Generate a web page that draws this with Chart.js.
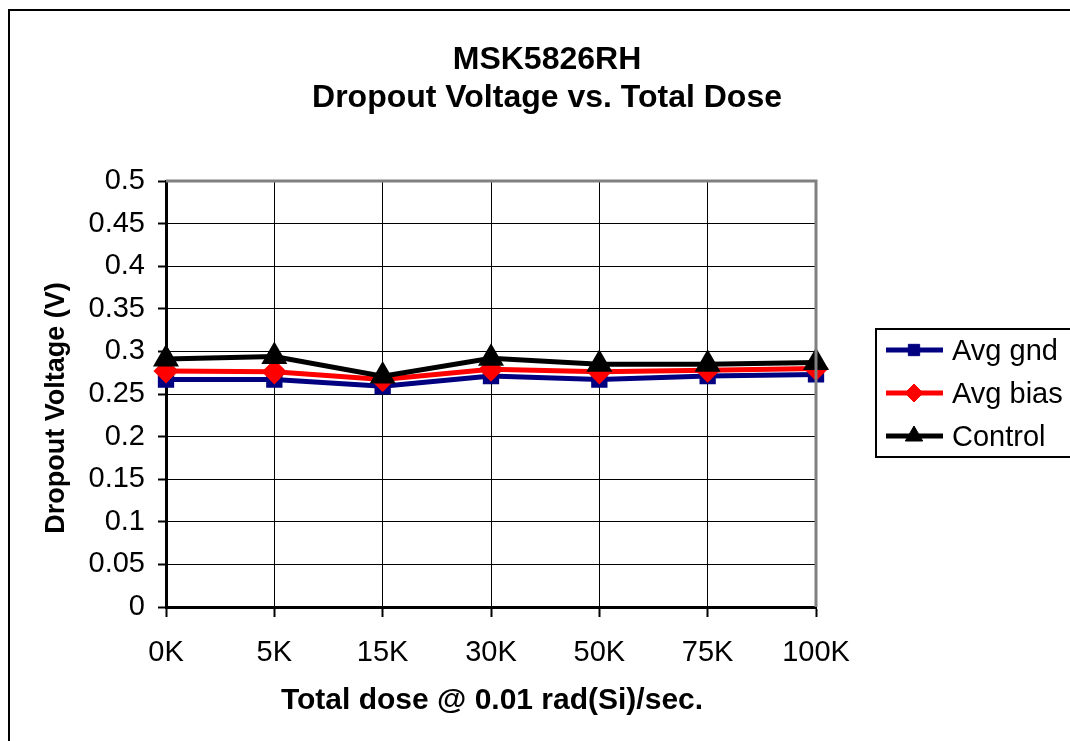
<!DOCTYPE html>
<html>
<head>
<meta charset="utf-8">
<script src="https://cdn.jsdelivr.net/npm/chart.js@4.4.0/dist/chart.umd.min.js"></script>
<style>
  body { margin: 0; background: #fff; }
  canvas { display: block; }
</style>
</head>
<body>
<canvas id="doseChart" width="1070" height="741"></canvas>
<script>
// data
const doses = ['0K', '5K', '15K', '30K', '50K', '75K', '100K'];
const avgGnd = [0.267, 0.267, 0.259, 0.271, 0.267, 0.271, 0.273];
const avgBias = [0.277, 0.276, 0.267, 0.279, 0.276, 0.278, 0.280];
const control = [0.291, 0.294, 0.271, 0.292, 0.285, 0.285, 0.287];
const yTicks = [0, 0.05, 0.1, 0.15, 0.2, 0.25, 0.3, 0.35, 0.4, 0.45, 0.5];

const FONT = "'Liberation Sans', Arial, sans-serif";

// frame, titles, plot border and legend
const extras = {
    id: 'extras',
    beforeDraw(chart) {
        const ctx = chart.ctx;
        ctx.save();
        ctx.fillStyle = '#fff';
        ctx.fillRect(0, 0, chart.width, chart.height);
        ctx.strokeStyle = '#000';
        ctx.lineWidth = 2;
        ctx.strokeRect(9, 10, chart.width + 20, chart.height + 20);
        ctx.restore();
    },
    afterDatasetsDraw(chart) {
        const ctx = chart.ctx;
        const a = chart.chartArea;
        ctx.save();
        // grey top and right border of the plot
        ctx.strokeStyle = '#808080';
        ctx.lineWidth = 3;
        ctx.beginPath();
        ctx.moveTo(a.left, a.top);
        ctx.lineTo(a.right, a.top);
        ctx.lineTo(a.right, a.bottom);
        ctx.stroke();

        // chart title
        ctx.fillStyle = '#000';
        ctx.font = 'bold 32px ' + FONT;
        ctx.textAlign = 'center';
        ctx.textBaseline = 'alphabetic';
        ctx.fillText('MSK5826RH', 547, 69);
        ctx.fillText('Dropout Voltage vs. Total Dose', 547, 107);

        // axis titles
        ctx.textBaseline = 'middle';
        ctx.font = 'bold 30px ' + FONT;
        ctx.fillText('Total dose @ 0.01 rad(Si)/sec.', 492, 701);
        ctx.save();
        ctx.translate(57, 408);
        ctx.rotate(-Math.PI / 2);
        ctx.font = 'bold 27px ' + FONT;
        ctx.fillText('Dropout Voltage (V)', 0, 0);
        ctx.restore();

        // legend
        ctx.lineWidth = 2;
        ctx.strokeStyle = '#000';
        ctx.strokeRect(876, 329, 220, 128);
        const rows = [350, 393, 436];
        chart.data.datasets.forEach((ds, i) => {
            const y = rows[i];
            ctx.strokeStyle = ds.borderColor;
            ctx.lineWidth = 5;
            ctx.beginPath();
            ctx.moveTo(886, y);
            ctx.lineTo(943, y);
            ctx.stroke();
            ctx.fillStyle = ds.pointBackgroundColor;
            ctx.strokeStyle = ds.pointBorderColor;
            ctx.lineWidth = 1;
            Chart.helpers.drawPoint(ctx, {
                pointStyle: ds.pointStyle,
                radius: ds.pointRadius,
                rotation: 0,
                borderWidth: 1
            }, 914, y);
            ctx.fillStyle = '#000';
            ctx.font = '29px ' + FONT;
            ctx.textAlign = 'left';
            ctx.textBaseline = 'middle';
            ctx.fillText(ds.label, 952, y + 2);
        });
        ctx.restore();
    }
};

const ctx = document.getElementById('doseChart').getContext('2d');
new Chart(ctx, {
    type: 'line',
    data: {
        labels: doses,
        datasets: [
            {
                label: 'Avg gnd',
                data: avgGnd,
                borderColor: '#000080',
                borderWidth: 5,
                pointStyle: 'rect',
                pointRadius: 8,
                pointBackgroundColor: '#000080',
                pointBorderColor: '#000080',
                order: 2
            },
            {
                label: 'Avg bias',
                data: avgBias,
                borderColor: '#ff0000',
                borderWidth: 5,
                pointStyle: 'rectRot',
                pointRadius: 9,
                pointBackgroundColor: '#ff0000',
                pointBorderColor: '#ff0000',
                order: 1
            },
            {
                label: 'Control',
                data: control,
                borderColor: '#000000',
                borderWidth: 5,
                pointStyle: 'triangle',
                pointRadius: 10,
                pointBackgroundColor: '#000000',
                pointBorderColor: '#000000',
                order: 0
            }
        ]
    },
    options: {
        responsive: false,
        animation: false,
        devicePixelRatio: 1,
        layout: {
            padding: { left: 0, right: 254, top: 181, bottom: 0 }
        },
        elements: {
            line: { tension: 0 }
        },
        plugins: {
            legend: { display: false },
            title: { display: false },
            tooltip: { enabled: false }
        },
        scales: {
            x: {
                offset: false,
                afterFit(scale) { scale.height = 134; },
                grid: {
                    color: '#000',
                    lineWidth: 1,
                    tickLength: 10,
                    tickColor: '#000',
                    tickWidth: 2
                },
                border: { color: '#000', width: 3 },
                ticks: {
                    color: '#000',
                    padding: 19,
                    maxRotation: 0,
                    font: { family: FONT, size: 29 }
                }
            },
            y: {
                min: 0,
                max: 0.5,
                afterFit(scale) { scale.width = 166; },
                afterBuildTicks(scale) {
                    scale.ticks = yTicks.map(v => ({ value: v }));
                },
                grid: {
                    color: '#000',
                    lineWidth: 1,
                    tickLength: 8,
                    tickColor: '#000',
                    tickWidth: 2
                },
                border: { color: '#000', width: 3 },
                ticks: {
                    color: '#000',
                    padding: 13,
                    font: { family: FONT, size: 29 },
                    callback: v => String(+v.toFixed(2))
                }
            }
        }
    },
    plugins: [extras]
});
</script>
</body>
</html>
